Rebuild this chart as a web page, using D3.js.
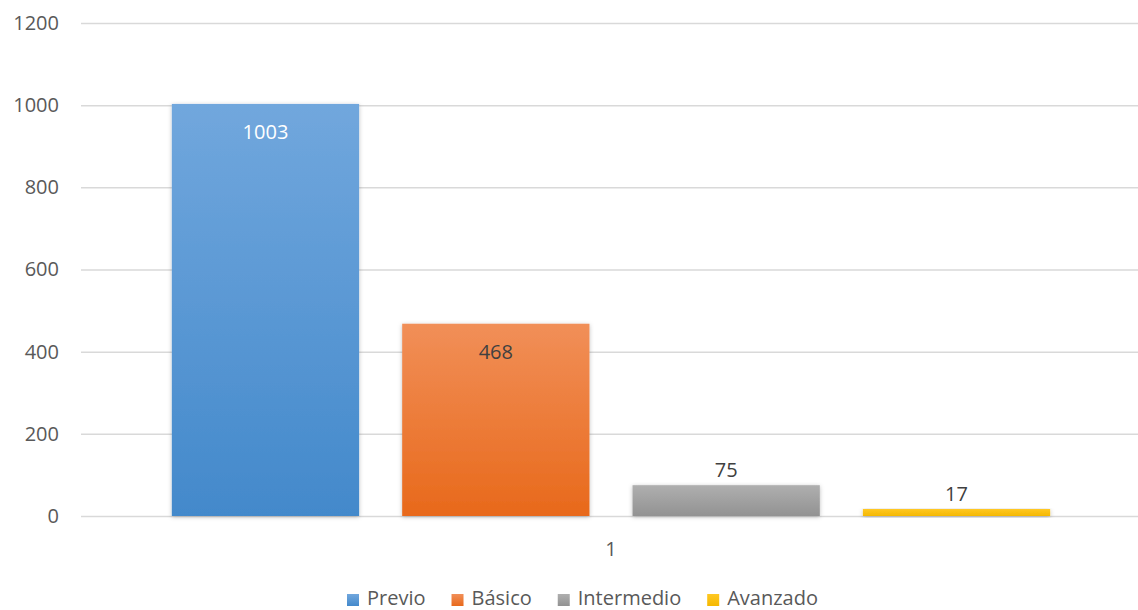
<!DOCTYPE html>
<html><head><meta charset="utf-8">
<script src="https://cdn.jsdelivr.net/npm/d3@7"></script>
<style>body{margin:0;background:#fff}svg{display:block}text{font-family:"Open Sans",sans-serif}</style>
</head><body>
<svg id="c" width="1138" height="610"></svg>
<script>
const categories = ["1"];
const seriesNames = ["Previo","Básico","Intermedio","Avanzado"];
const seriesValues = [1003, 468, 75, 17];
const yTicks = [0,200,400,600,800,1000,1200];
const colorsTop = ["#71a7dd","#f18f58","#afafaf","#ffc823"];
const colorsBot = ["#4389cb","#e8691b","#929292","#f5b800"];

const svg = d3.select("#c");
const W = 1138, H = 610;
const m = {l:81, r:0, t:23, b:94};
const y = d3.scaleLinear().domain([0,1200]).range([H-m.b, m.t]);
const x0 = d3.scaleBand().domain(categories).range([m.l+3, W-m.r]).paddingInner(0).paddingOuter(0.1);
const x1 = d3.scaleBand().domain(seriesNames).range([0, x0.bandwidth()]).paddingInner(0.187).paddingOuter(0);

const defs = svg.append("defs");
seriesNames.forEach((s,i)=>{
  const g = defs.append("linearGradient").attr("id","g"+i).attr("x1",0).attr("y1",0).attr("x2",0).attr("y2",1);
  g.append("stop").attr("offset","0%").attr("stop-color",colorsTop[i]);
  g.append("stop").attr("offset","100%").attr("stop-color",colorsBot[i]);
});
const f = defs.append("filter").attr("id","sh").attr("x","-10%").attr("y","-10%").attr("width","120%").attr("height","130%");
f.append("feDropShadow").attr("dx",0).attr("dy",1).attr("stdDeviation",2).attr("flood-color","#000").attr("flood-opacity",0.25);

// grid
const yAxis = d3.axisLeft(y).tickValues(yTicks).tickFormat(d3.format("d")).tickSize(-(W-m.l-m.r)).tickPadding(22);
const ga = svg.append("g").attr("transform",`translate(${m.l},0)`).call(yAxis);
ga.select(".domain").remove();
ga.selectAll(".tick line").attr("stroke","#d9d9d9").attr("stroke-width",1.5);
ga.selectAll(".tick text").attr("fill","#595959").style("font-size","20px").attr("font-family","Open Sans");

// bars
const grp = svg.append("g").selectAll("g").data(categories).join("g").attr("transform",d=>`translate(${x0(d)},0)`);
grp.selectAll("rect").data(seriesNames.map((s,i)=>({s,i,v:seriesValues[i]}))).join("rect")
  .attr("x",d=>x1(d.s)).attr("width",x1.bandwidth())
  .attr("y",d=>y(d.v)).attr("height",d=>y(0)-y(d.v))
  .attr("fill",d=>`url(#g${d.i})`).attr("filter","url(#sh)");

grp.selectAll("text.lbl").data(seriesNames.map((s,i)=>({s,i,v:seriesValues[i]}))).join("text")
  .attr("class","lbl")
  .attr("x",d=>x1(d.s)+x1.bandwidth()/2)
  .attr("y",d=> d.v>300 ? y(d.v)+35 : y(d.v)-8)
  .attr("text-anchor","middle")
  .attr("fill",d=>d.i===0?"#ffffff":"#404040")
  .style("font-size","20px")
  .text(d=>d.v);

// x axis label
svg.append("g").selectAll("text").data(categories).join("text")
  .attr("x",d=>x0(d)+x0.bandwidth()/2).attr("y",y(0)+40)
  .attr("text-anchor","middle").attr("fill","#595959").style("font-size","20px").text(d=>d);

// legend
const lg = svg.append("g");
let lx = 347;
seriesNames.forEach((s,i)=>{
  lg.append("rect").attr("x",lx).attr("y",594).attr("width",12).attr("height",12).attr("fill",`url(#g${i})`);
  const t = lg.append("text").attr("x",lx+20).attr("y",605).attr("fill","#595959").style("font-size","20px").text(s);
  lx += 20 + t.node().getComputedTextLength() + 26;
});
</script>
</body></html>
